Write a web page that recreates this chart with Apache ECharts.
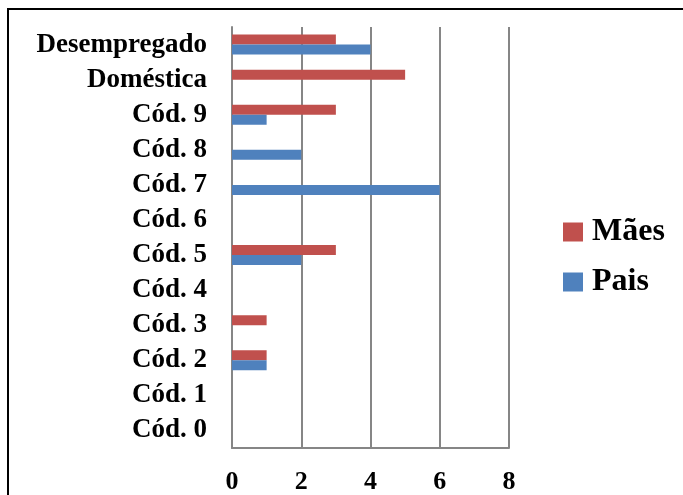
<!DOCTYPE html>
<html><head><meta charset="utf-8">
<script src="https://cdn.jsdelivr.net/npm/echarts@6/dist/echarts.min.js"></script>
<style>html,body{margin:0;padding:0;background:#fff;}#c{width:683px;height:495px;}
#frame{position:absolute;left:7px;top:8px;width:700px;height:600px;border-left:2px solid #000;border-top:2px solid #000;pointer-events:none;}</style>
</head><body><div id="c"></div><div id="frame"></div>
<script>
const categories = ['Cód. 0','Cód. 1','Cód. 2','Cód. 3','Cód. 4','Cód. 5','Cód. 6','Cód. 7','Cód. 8','Cód. 9','Doméstica','Desempregado'];
const maes = [0,0,1,1,0,3,0,0,0,3,5,3];
const pais = [0,0,1,0,0,2,0,6,2,1,0,4];
const xTicks = [0,2,4,6,8];

const chart = echarts.init(document.getElementById('c'));
const font = '"Liberation Serif","Times New Roman",serif';
chart.setOption({
  animation:false,
  backgroundColor:'#fff',
  grid:{left:232,right:174,top:27,bottom:45,containLabel:false},
  legend:{
    orient:'vertical', left:558, top:211, itemWidth:20, itemHeight:19, itemGap:18,
    icon:'rect', data:['Mães','Pais'],
    textStyle:{fontFamily:font,fontWeight:'bold',fontSize:32,color:'#000',padding:[0,0,0,4]}
  },
  xAxis:{type:'value',min:xTicks[0],max:xTicks[xTicks.length-1],interval:2,
    axisLine:{show:true,lineStyle:{color:'#868686',width:2}},
    axisTick:{show:false},
    splitLine:{show:true,lineStyle:{color:'#868686',width:2}},
    axisLabel:{margin:21,fontFamily:font,fontWeight:'bold',fontSize:26,color:'#000',lineHeight:26}
  },
  yAxis:{type:'category',data:categories,
    axisLine:{show:true,lineStyle:{color:'#868686',width:2}},
    axisTick:{show:false},
    axisLabel:{interval:0,margin:25,fontFamily:font,fontWeight:'bold',fontSize:27,color:'#000',padding:[3,0,0,0]}
  },
  series:[
    {name:'Mães',type:'bar',data:maes,barWidth:10,barGap:'0%',itemStyle:{color:'#C0504D'}},
    {name:'Pais',type:'bar',data:pais,barWidth:10,barGap:'0%',itemStyle:{color:'#4F81BD'}}
  ]
});
</script></body></html>
